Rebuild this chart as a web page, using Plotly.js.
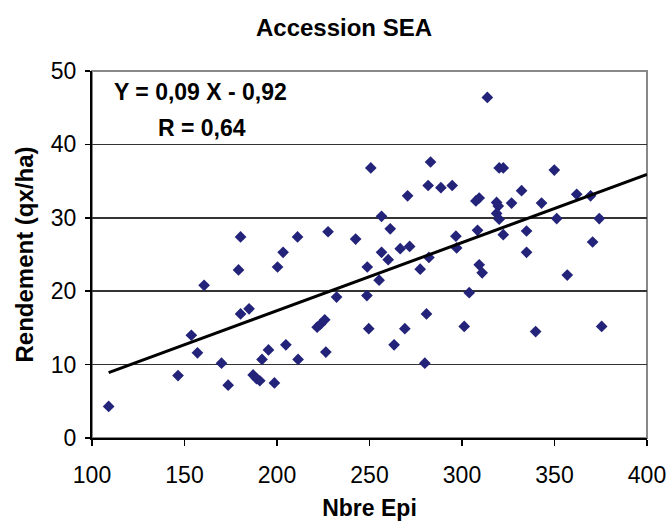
<!DOCTYPE html>
<html>
<head>
<meta charset="utf-8">
<script src="https://cdn.plot.ly/plotly-3.0.1.min.js"></script>
<style>html,body{margin:0;padding:0;background:#fff;}#chart{width:668px;height:524px;}</style>
</head>
<body>
<div id="chart"></div>
<script>
// Nombre d'épis par point (Nbre Epi)
const nbreEpi = [109.0,146.5,153.7,157.0,160.6,170.0,173.6,180.3,184.9,187.1,188.9,190.7,191.9,195.4,198.6,
  180.3,179.2,200.3,203.3,211.1,227.6,242.5,250.7,256.5,261.2,256.5,260.1,248.8,255.2,266.6,271.7,270.6,
  277.4,282.1,283.0,281.7,288.6,294.7,296.7,297.1,232.2,248.6,204.8,211.4,221.7,223.5,225.8,226.4,249.6,
  263.3,269.1,280.8,279.9,301.2,303.9,339.8,375.5,320.1,322.3,349.9,307.5,309.3,318.7,319.6,326.8,332.2,
  343.0,318.7,320.1,351.2,362.0,369.5,374.2,308.4,322.3,334.9,334.9,370.6,309.3,310.9,356.9,313.7];
// Rendement (qx/ha)
const rendement = [4.3,8.5,14.0,11.6,20.8,10.2,7.2,16.9,17.6,8.6,8.1,7.8,10.7,12.0,7.5,
  27.4,22.9,23.3,25.3,27.4,28.1,27.1,36.8,30.2,28.5,25.3,24.3,23.3,21.5,25.8,26.1,33.0,
  23.0,24.6,37.6,34.4,34.1,34.4,27.5,25.9,19.2,19.4,12.7,10.7,15.1,15.5,16.1,11.7,14.9,
  12.7,14.9,16.9,10.2,15.2,19.8,14.5,15.2,36.8,36.8,36.5,32.3,32.7,32.1,31.6,32.0,33.7,
  32.0,30.6,29.8,29.9,33.2,33.0,29.9,28.3,27.7,28.2,25.3,26.7,23.6,22.5,22.2,46.4];
// Droite de régression (extrémités)
const trendX = [109, 400];
const trendY = [8.9, 35.9];
const xTicks = [100,150,200,250,300,350,400];
const yTicks = [0,10,20,30,40,50];
const chartTitle = 'Accession SEA';
const xTitle = 'Nbre Epi';
const yTitle = 'Rendement (qx/ha)';
const equationText = 'Y = 0,09 X - 0,92';
const rText = 'R = 0,64';

const FONT = 'Liberation Sans, Arial, sans-serif';

const traces = [
  {x: nbreEpi, y: rendement, type: 'scatter', mode: 'markers',
   marker: {symbol: 'diamond', size: 9, color: '#23237A'}, hoverinfo: 'x+y'},
  {x: trendX, y: trendY, type: 'scatter', mode: 'lines',
   line: {color: '#000000', width: 3}, hoverinfo: 'skip'}
];

const layout = {
  width: 668, height: 524,
  margin: {l: 92, r: 21, t: 71, b: 86},
  paper_bgcolor: '#ffffff', plot_bgcolor: '#ffffff',
  showlegend: false,
  font: {family: FONT, color: '#000'},
  title: {text: '<b>' + chartTitle + '</b>', font: {family: FONT, size: 24, color: '#000'},
          x: 0.515, xref: 'container', xanchor: 'center', y: 0.947, yref: 'container', yanchor: 'middle'},
  xaxis: {
    range: [100, 400], tickvals: xTicks, ticktext: xTicks.map(String),
    showgrid: false, zeroline: false,
    showline: true, linecolor: '#000', linewidth: 2,
    ticks: 'outside', ticklen: 6, tickwidth: 1.5, tickcolor: '#000',
    ticklabelstandoff: 9,
    tickfont: {family: FONT, size: 23, color: '#000'},
    title: {text: '<b>' + xTitle + '</b>', font: {family: FONT, size: 23, color: '#000'}, standoff: 13}
  },
  yaxis: {
    range: [0, 50], tickvals: yTicks, ticktext: yTicks.map(String),
    showgrid: true, gridcolor: '#333', gridwidth: 1.5, zeroline: false,
    showline: true, linecolor: '#000', linewidth: 2,
    ticks: 'outside', ticklen: 5, tickwidth: 1.5, tickcolor: '#000',
    ticklabelstandoff: 4,
    tickfont: {family: FONT, size: 23, color: '#000'},
    title: {text: '<b>' + yTitle + '</b>', font: {family: FONT, size: 24, color: '#000'}, standoff: 10}
  },
  shapes: [
    {type: 'rect', xref: 'paper', yref: 'paper', x0: 0, x1: 1, y0: 0, y1: 1,
     line: {color: '#888', width: 2}, fillcolor: 'rgba(0,0,0,0)', layer: 'below'}
  ],
  annotations: [
    {text: '<b>' + equationText + '</b>', xref: 'x', yref: 'y', x: 158.8, y: 47.1,
     showarrow: false, xanchor: 'center', yanchor: 'middle', font: {family: FONT, size: 23, color: '#000'}},
    {text: '<b>' + rText + '</b>', xref: 'x', yref: 'y', x: 159.6, y: 42.2,
     showarrow: false, xanchor: 'center', yanchor: 'middle', font: {family: FONT, size: 23, color: '#000'}}
  ]
};

Plotly.newPlot('chart', traces, layout, {displayModeBar: false, staticPlot: true});
</script>
</body>
</html>
